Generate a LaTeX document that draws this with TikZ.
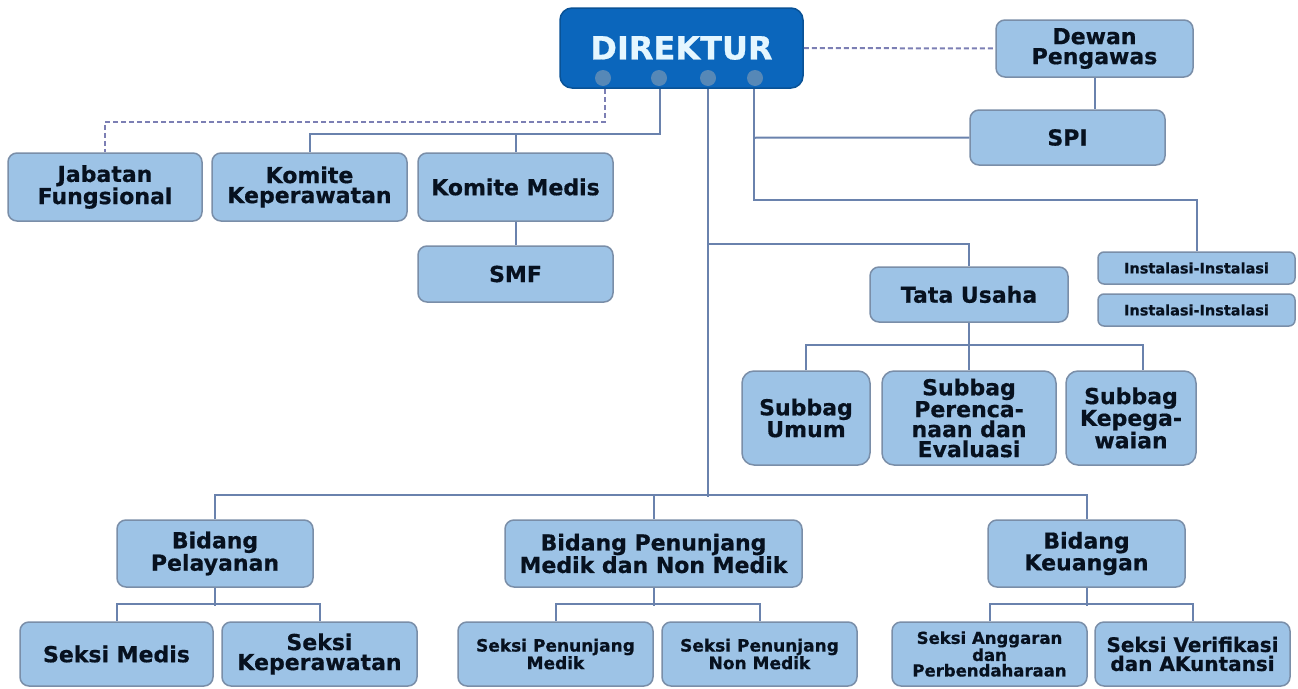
\documentclass[tikz,border=0pt]{standalone}
\usepackage{fontspec}
\setmainfont{DejaVu Sans}[BoldFeatures={FakeBold=0.6}]
\usetikzlibrary{calc}
\definecolor{boxc}{HTML}{9DC3E6}
\definecolor{bordc}{HTML}{7A8EA8}
\definecolor{linec}{HTML}{6A82AD}
\definecolor{dashc}{HTML}{7C7FB4}
\definecolor{txtc}{HTML}{07111F}
\definecolor{dirc}{HTML}{0B66BC}
\definecolor{dirtxt}{HTML}{E4F6FF}
\newcommand\fbig{\fontsize{22}{20}\selectfont\bfseries}
\newcommand\fver{\fontsize{20}{19}\selectfont\bfseries}
\newcommand\fmid{\fontsize{17}{14}\selectfont\bfseries}
\newcommand\fang{\fontsize{16.5}{15.5}\selectfont\bfseries}
\newcommand\fsml{\fontsize{14.5}{14}\selectfont\bfseries}
\tikzset{
  orgbox/.style={draw=bordc, line width=1.5pt, fill=boxc, rounded corners=9pt,
    align=center, text=txtc, inner sep=0pt, font=\fbig},
  conn/.style={draw=linec, line width=2pt},
  dconn/.style={draw=dashc, line width=2pt, dash pattern=on 5pt off 3pt},
}
\begin{document}
\begin{tikzpicture}[x=1pt,y=-1pt]
\useasboundingbox (0,0) rectangle (1298,688);
% boxes
\node[orgbox, fill=dirc, draw=dirc!80!black, text=dirtxt, font=\fontsize{32}{32}\selectfont\bfseries,
  minimum width=243pt, minimum height=80pt, rounded corners=12pt] (dir) at (681.5,48) {DIREKTUR};
\foreach \cx in {603,659,708,755}{
  \fill[gray!60, opacity=0.45] (\cx,78) circle (8pt);
}
\node[orgbox, minimum width=197pt, minimum height=57pt] (dew) at (1094.5,48.5) {Dewan\\Pengawas};
\node[orgbox, minimum width=195pt, minimum height=55pt] (spi) at (1067.5,137.5) {SPI};
\node[orgbox, minimum width=194pt, minimum height=68pt] (jab) at (105,187) {Jabatan\\Fungsional};
\node[orgbox, minimum width=195pt, minimum height=68pt] (kkep) at (309.5,187) {Komite\\Keperawatan};
\node[orgbox, minimum width=195pt, minimum height=68pt] (kmed) at (515.5,187) {Komite Medis};
\node[orgbox, minimum width=195pt, minimum height=56pt] (smf) at (515.5,274) {SMF};
\node[orgbox, minimum width=198pt, minimum height=55pt] (tu) at (969,294.5) {Tata Usaha};
\node[orgbox, font=\fsml, rounded corners=6pt, minimum width=197pt, minimum height=32pt] (ins1) at (1196.5,268) {Instalasi-Instalasi};
\node[orgbox, font=\fsml, rounded corners=6pt, minimum width=197pt, minimum height=32pt] (ins2) at (1196.5,310) {Instalasi-Instalasi};
\node[orgbox, minimum width=128pt, minimum height=94pt, rounded corners=12pt] (sbu) at (806,418) {Subbag\\Umum};
\node[orgbox, minimum width=174pt, minimum height=94pt, rounded corners=12pt] (sbp) at (969,418) {Subbag\\Perenca-\\naan dan\\Evaluasi};
\node[orgbox, minimum width=130pt, minimum height=94pt, rounded corners=12pt] (sbk) at (1131,418) {Subbag\\Kepega-\\waian};
\node[orgbox, minimum width=196pt, minimum height=67pt] (bp) at (215,553.5) {Bidang\\Pelayanan};
\node[orgbox, minimum width=297pt, minimum height=67pt] (bpm) at (653.5,553.5) {Bidang Penunjang\\Medik dan Non Medik};
\node[orgbox, minimum width=197pt, minimum height=67pt] (bk) at (1086.5,553.5) {Bidang\\Keuangan};
\node[orgbox, minimum width=193pt, minimum height=64pt] (sm) at (116.5,654) {Seksi Medis};
\node[orgbox, minimum width=195pt, minimum height=64pt] (skp) at (319.5,654) {Seksi\\Keperawatan};
\node[orgbox, font=\fmid, minimum width=195pt, minimum height=64pt] (spm) at (555.5,654) {Seksi Penunjang\\Medik};
\node[orgbox, font=\fmid, minimum width=195pt, minimum height=64pt] (spn) at (759.5,654) {Seksi Penunjang\\Non Medik};
\node[orgbox, font=\fang, minimum width=195pt, minimum height=64pt] (sa) at (989.5,654) {Seksi Anggaran\\dan\\Perbendaharaan};
\node[orgbox, font=\fver, minimum width=195pt, minimum height=64pt] (sv) at (1192.5,654) {Seksi Verifikasi\\dan AKuntansi};
% connectors
\coordinate (d1) at ($(dir.south)+(-76.5,0)$);
\coordinate (d2) at ($(dir.south)+(-21.5,0)$);
\coordinate (d3) at ($(dir.south)+(26.5,0)$);
\coordinate (d4) at ($(dir.south)+(72.5,0)$);
\draw[dconn] (d1) -- ++(0,33) -| (jab.north);
\draw[dconn] (dir.east) -- (dew.west);
\draw[conn] (d2) -- ++(0,45) coordinate (b2) -| (kkep.north);
\draw[conn] (b2 -| kmed.north) -- (kmed.north);
\draw[conn] (kmed.south) -- (smf.north);
\draw[conn] (d3) -- ++(0,408);
\draw[conn] ($(d3)+(0,155)$) -| (tu.north);
\draw[conn] (d4) -- ++(0,111) -| (ins1.north);
\draw[conn] ($(d4)+(0,49)$) -- (spi.west);
\draw[conn] (dew.south) -- (dew.south |- spi.north);
\draw[conn] (tu.south) -- (sbp.north);
\draw[conn] (sbu.north) -- ++(0,-25) -| ([xshift=12pt]sbk.north);
\draw[conn] (bp.north) -- ++(0,-24) -| (bk.north);
\draw[conn] (bpm.north) -- ++(0,-24);
\draw[conn] (bp.south) -- ++(0,18);
\draw[conn] (sm.north) -- ++(0,-17) -| (skp.north);
\draw[conn] (bpm.south) -- ++(0,18);
\draw[conn] (spm.north) -- ++(0,-17) -| (spn.north);
\draw[conn] (bk.south) -- ++(0,18);
\draw[conn] (sa.north) -- ++(0,-17) -| (sv.north);
\end{tikzpicture}
\end{document}
